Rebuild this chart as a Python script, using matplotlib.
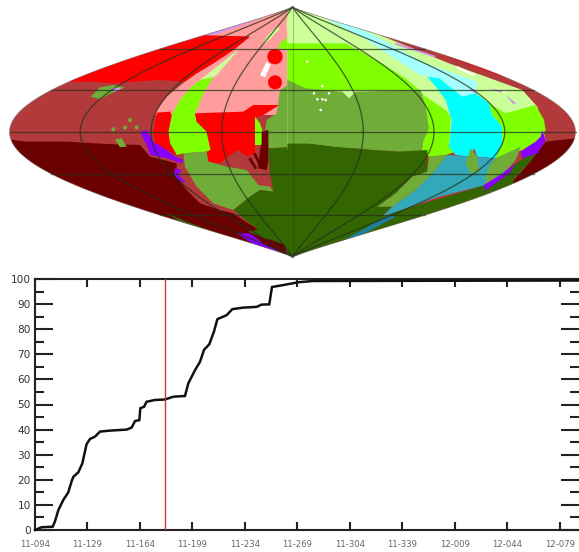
import numpy as np
import matplotlib
matplotlib.use('Agg')
import matplotlib.pyplot as plt
from matplotlib.patches import Polygon, Circle

# curve below the map
days = [0, 4.4, 11.8, 13.3, 15.6, 18.9, 22.2, 24.4, 25.6, 28.9, 31.6, 33.3, 34.4, 36.7, 40, 43.3, 50, 61.1,
        64.4, 66.7, 69.6, 70.2, 72.7, 74.4, 80, 86.7, 92.2, 100, 102.2, 106.7, 110, 112.7, 116.2, 119.3, 121.6,
        127.8, 131.6, 138.9, 147.8, 151.1, 156.2, 158, 165.6, 175.5, 185, 363]
percent = [0, 1.1, 1.3, 3.4, 8, 12, 15, 19.4, 21.2, 23, 26.6, 31.3, 34.2, 36.3, 37.2, 39.2, 39.6, 40,
           40.8, 43.4, 43.8, 48.5, 49.1, 51.1, 51.8, 52, 53.1, 53.4, 58.4, 63.7, 67, 71.8, 74, 79, 84,
           85.6, 88, 88.6, 88.9, 89.8, 89.9, 96.8, 97.6, 98.7, 99.2, 99.4]
now_day = 86.7
date_labels = ['11-094', '11-129', '11-164', '11-199', '11-234', '11-269', '11-304', '11-339', '12-009', '12-044', '12-079']

BROWN = '#b23a3a'
MAROON = '#6a0000'
RED = '#ff0000'
PINK = '#ff9c9c'
LIME = '#7fff00'
OLIVE = '#70ad38'
DARK = '#336600'
CYAN = '#00ffff'
PALE_CYAN = '#a6ffff'
PALE = '#ccff99'
TEAL = '#33a8bb'
PURPLE = '#8a00ff'
LAV = '#cc99ee'

# map regions west of the central meridian, traced on a 3x crop of the picture
w_pink = [(880, 10), (700, 70), (570, 105), (750, 110), (700, 150), (640, 190), (590, 220), (555, 245), (500, 290), (470, 330),
          (465, 345), (880, 345)]
w_lavender = [(570, 105), (750, 48), (810, 30), (780, 55), (700, 85), (640, 105)]
w_red_top = [(200, 245), (577, 105), (750, 110), (700, 150), (640, 190), (590, 220), (555, 245), (480, 240), (400, 245), (340, 250), (280, 245)]
w_pale_stripe = [(525, 335), (600, 240), (720, 145), (650, 225), (640, 232), (600, 240), (570, 265), (540, 300)]
w_lime = [(600, 240), (640, 232), (610, 280), (585, 340), (590, 365), (620, 395), (632, 450), (620, 455), (550, 460), (530, 465),
          (510, 430), (505, 395), (515, 345), (540, 300), (570, 265)]
w_red_left = [(470, 338), (510, 335), (515, 345), (505, 395), (510, 430), (530, 465), (500, 450), (465, 430), (460, 400)]
w_red_mid = [(585, 340), (730, 335), (760, 315), (840, 315), (830, 320), (790, 345), (770, 350), (765, 400), (765, 460), (740, 470),
             (715, 450), (690, 465), (660, 490), (625, 485), (620, 455), (632, 450), (620, 395), (590, 365)]
w_maroon = [(0, 415), (80, 425), (200, 425), (320, 432), (420, 435), (450, 470), (530, 490), (530, 530), (560, 570), (600, 610),
            (660, 630), (700, 640), (775, 690), (745, 695), (855, 740), (870, 800), (0, 800)]
w_olive_low = [(550, 460), (620, 455), (625, 485), (680, 500), (740, 510), (775, 555), (810, 560), (820, 575), (780, 570), (750, 590),
               (700, 630), (640, 610), (590, 560), (555, 500)]
w_dark = [(880, 440), (805, 445), (810, 520), (820, 575), (780, 570), (750, 590), (700, 630), (775, 690), (745, 695), (855, 740), (880, 790)]
w_dark_edge = [(490, 635), (560, 665), (670, 705), (800, 760), (760, 770), (640, 720), (560, 675)]
w_teal = [(665, 708), (720, 725), (780, 760), (720, 745)]
w_purple_low = [(710, 700), (750, 700), (790, 730), (840, 755), (780, 745)]
w_maroon_low = [(800, 715), (855, 735), (850, 750), (810, 735)]
w_olive_mid = [(800, 360), (830, 340), (840, 270), (880, 245), (880, 440), (805, 445), (805, 430), (790, 425)]
w_lime_small = [(765, 350), (780, 370), (790, 400), (790, 435), (765, 435)]
w_maroon_small = [(785, 395), (805, 390), (805, 480), (800, 510), (775, 505), (780, 450), (785, 430)]
w_purple = [(420, 395), (440, 390), (460, 425), (500, 450), (525, 470), (550, 480), (545, 490), (500, 475), (450, 465), (440, 435)]
w_purple2 = [(525, 505), (545, 510), (535, 525), (558, 548), (540, 545), (522, 525)]
w_patch = [(272, 290), (300, 262), (340, 255), (375, 262), (345, 275), (300, 297)]
w_patch_lav = [(330, 270), (345, 262), (365, 265), (345, 276)]
w_patch2 = [(345, 418), (365, 415), (380, 440), (360, 442)]
w_lime_top = [(880, 100), (840, 130), (835, 145), (880, 152)]
w_pale_top = [(830, 80), (800, 110), (785, 138), (810, 118), (840, 85)]
w_pale_top2 = [(880, 45), (860, 60), (860, 92), (880, 80)]
w_white = [(800, 185), (812, 195), (795, 232), (780, 225)]
stripes = [[(745, 478), (752, 472), (772, 505), (765, 508)], [(760, 462), (767, 458), (787, 502), (780, 505)]]
red_dots = [(825, 170, 23), (825, 247, 21)]
olive_dots = [(340, 388), (375, 383), (390, 360), (410, 382)]

# regions east of it, same kind of crop
e_pale = [(-5, 15), (80, 35), (260, 100), (480, 190), (700, 270), (745, 320), (770, 420), (-5, 450)]
e_red_edge = [(270, 90), (400, 132), (660, 228), (640, 230), (400, 142), (290, 108)]
e_pale_cyan = [(60, 30), (150, 60), (240, 98), (410, 190), (565, 245), (560, 280), (530, 300), (510, 280), (470, 265), (415, 230),
               (385, 220), (340, 190), (230, 118)]
e_lime = [(-5, 130), (170, 130), (270, 185), (350, 235), (385, 265), (410, 290), (470, 330), (485, 350), (480, 440), (500, 455),
          (470, 465), (420, 470), (395, 460), (405, 420), (420, 385), (410, 320), (395, 270), (-5, 270)]
e_cyan = [(415, 230), (450, 235), (520, 290), (560, 280), (600, 310), (610, 345), (640, 380), (640, 430), (620, 475), (565, 470),
          (555, 445), (545, 470), (500, 465), (480, 440), (488, 360), (470, 300), (440, 260)]
e_lime_right = [(600, 310), (650, 340), (740, 315), (765, 360), (770, 390), (750, 420), (700, 450), (640, 470), (620, 475), (640, 430),
                (640, 380), (610, 345)]
e_olive = [(-5, 240), (50, 265), (160, 275), (180, 295), (200, 275), (395, 270), (410, 320), (420, 385), (405, 420), (395, 455),
           (330, 455), (250, 450), (140, 440), (60, 430), (-5, 430)]
e_dark = [(-5, 430), (60, 430), (140, 440), (250, 450), (330, 455), (415, 450), (415, 515), (370, 530), (320, 580), (265, 620),
          (310, 620), (275, 650), (160, 730), (-5, 790)]
e_dark_edge = [(20, 790), (270, 650), (590, 555), (600, 565), (680, 490), (760, 440), (720, 490), (680, 530), (670, 555), (650, 610), (300, 730)]
e_maroon = [(770, 425), (900, 410), (900, 500), (660, 590), (675, 540), (720, 490)]
e_olive_low = [(420, 470), (475, 465), (430, 520), (380, 570), (310, 620), (265, 620), (320, 580), (370, 530), (415, 515)]
e_teal = [(475, 465), (620, 475), (600, 500), (590, 555), (450, 590), (280, 650), (310, 620), (380, 570), (430, 520)]
e_teal_edge = [(300, 645), (160, 722), (180, 725), (320, 650)]
e_olive_patch = [(545, 445), (565, 470), (570, 515), (545, 520), (530, 490)]
e_olive_right = [(620, 475), (695, 440), (680, 480), (640, 525), (590, 555), (590, 530), (600, 500)]
e_purple = [(760, 390), (770, 420), (745, 460), (700, 475), (695, 455), (740, 425), (755, 410)]
e_purple2 = [(585, 555), (640, 520), (680, 490), (660, 520), (590, 572)]
e_lav = [[(220, 80), (260, 92), (255, 97), (218, 84)], [(320, 128), (440, 168), (436, 172), (318, 134)], [(540, 265), (560, 270), (560, 282)],
         [(600, 265), (640, 272), (636, 278)], [(650, 285), (682, 310), (672, 312)]]
e_white = [(505, 198), (560, 225), (555, 230), (500, 203)]
white_specks = [(75, 280), (100, 258), (120, 280), (85, 298), (100, 298), (110, 300), (95, 330), (55, 185), (645, 275)]


def west(pts):
    return [(x / 3, y / 3) for x, y in pts]


def east(pts):
    return [(289 + x / 3, y / 3) for x, y in pts]


def project(lon, lat):
    # sinusoidal-like projection to picture pixels, the outline in the picture is a bit sharper than cos
    lat = np.asarray(lat, dtype=float)
    return 292.5 + 283 * (lon / 180) * np.cos(np.radians(lat)) ** 1.1, 132 - lat / 90 * 125


fig = plt.figure(figsize=(5.79, 5.52), dpi=100)
ax_map = fig.add_axes([0, 0, 1, 1])
ax_map.set_xlim(0, 579)
ax_map.set_ylim(552, 0)
ax_map.axis('off')

lats = np.linspace(-90, 90, 181)
xl, yl = project(-180, lats)
xr, yr = project(180, lats)
outline = np.column_stack([np.r_[xr, xl[::-1]], np.r_[yr, yl[::-1]]])
sphere = Polygon(outline, closed=True, facecolor=BROWN, edgecolor='none')
ax_map.add_patch(sphere)

layers = [
    (w_pink, PINK, west), (w_lavender, LAV, west), (w_red_top, RED, west), (w_pale_stripe, PALE, west), (w_lime, LIME, west),
    (w_red_left, RED, west), (w_red_mid, RED, west), (w_maroon, MAROON, west), (w_olive_low, OLIVE, west), (w_dark, DARK, west),
    (w_dark_edge, DARK, west), (w_teal, TEAL, west), (w_purple_low, PURPLE, west), (w_maroon_low, MAROON, west),
    (w_olive_mid, OLIVE, west), (w_lime_small, LIME, west), (w_maroon_small, MAROON, west), (w_purple, PURPLE, west),
    (w_purple2, PURPLE, west), (w_patch, OLIVE, west), (w_patch_lav, LAV, west), (w_patch2, OLIVE, west),
    (w_lime_top, LIME, west), (w_pale_top, PALE, west), (w_pale_top2, PALE, west), (w_white, 'white', west),
    (stripes[0], MAROON, west), (stripes[1], MAROON, west),
    (e_pale, PALE, east), (e_red_edge, RED, east), (e_pale_cyan, PALE_CYAN, east), (e_lime, LIME, east), (e_cyan, CYAN, east),
    (e_lime_right, LIME, east), (e_olive, OLIVE, east), (e_dark_edge, DARK, east), (e_maroon, MAROON, east), (e_dark, DARK, east),
    (e_teal, TEAL, east), (e_teal_edge, '#1f7f9f', east), (e_olive_low, OLIVE, east), (e_olive_patch, OLIVE, east),
    (e_olive_right, OLIVE, east), (e_purple, PURPLE, east), (e_purple2, PURPLE, east), (e_white, 'white', east),
]
for lav in e_lav:
    layers.append((lav, LAV, east))

for pts, color, side in layers:
    p = Polygon(side(pts), closed=True, facecolor=color, edgecolor='none')
    ax_map.add_patch(p)
    p.set_clip_path(sphere)

for x, y, r in red_dots:
    ax_map.add_patch(Circle((x / 3, y / 3), r / 3, facecolor=RED, edgecolor='none'))
for x, y in olive_dots:
    ax_map.add_patch(Circle((x / 3, y / 3), 2, facecolor=OLIVE, edgecolor='none'))
for x, y in white_specks:
    ax_map.add_patch(Circle((289 + x / 3, y / 3), 1.3, facecolor='white', edgecolor='none'))

# graticule
grid_color = '#24301c'
for lat in [-60, -30, 0, 30, 60]:
    lons = np.linspace(-180, 180, 3)
    gx, gy = project(lons, np.full(3, lat))
    ax_map.plot(gx, gy, color=grid_color, lw=0.9, alpha=0.75)
for lon in [-135, -90, -45, 0, 45, 90, 135]:
    gx, gy = project(lon, lats)
    ax_map.plot(gx, gy, color=grid_color, lw=0.9, alpha=0.75 if lon else 0.25)
ax_map.plot(outline[:, 0], outline[:, 1], color='#777777', lw=0.6, alpha=0.6)

# percentage curve
ax = fig.add_axes([35 / 579, 1 - 530 / 552, 544 / 579, 251 / 552])
ax.set_xlim(0, 362.7)
ax.set_ylim(0, 100)
ax.plot(days, percent, color='#111111', lw=1.8, solid_joinstyle='miter', clip_on=False, zorder=3)
ax.axvline(now_day, color='#c8393c', lw=1.0, zorder=4)

ax.set_xticks(np.arange(len(date_labels)) * 35)
ax.set_xticklabels(date_labels)
ax.set_yticks(np.arange(0, 101, 10))
ax.set_yticks(np.arange(5, 100, 10), minor=True)
ax.tick_params(axis='x', which='major', direction='in', top=True, length=5.8, width=1.5, color='#222222', labelsize=6.1,
               labelcolor='#666666', pad=7)
ax.tick_params(axis='y', which='major', direction='in', right=True, length=13, width=1.5, color='#222222', labelsize=7.6,
               labelcolor='#333333', pad=3)
ax.tick_params(axis='y', which='minor', direction='in', right=True, length=6.5, width=1.5, color='#222222')
for s in ['top', 'bottom', 'left']:
    ax.spines[s].set_linewidth(1.5)
    ax.spines[s].set_color('#222222')
ax.spines['right'].set_visible(False)

fig.savefig('out.png', dpi=100)
